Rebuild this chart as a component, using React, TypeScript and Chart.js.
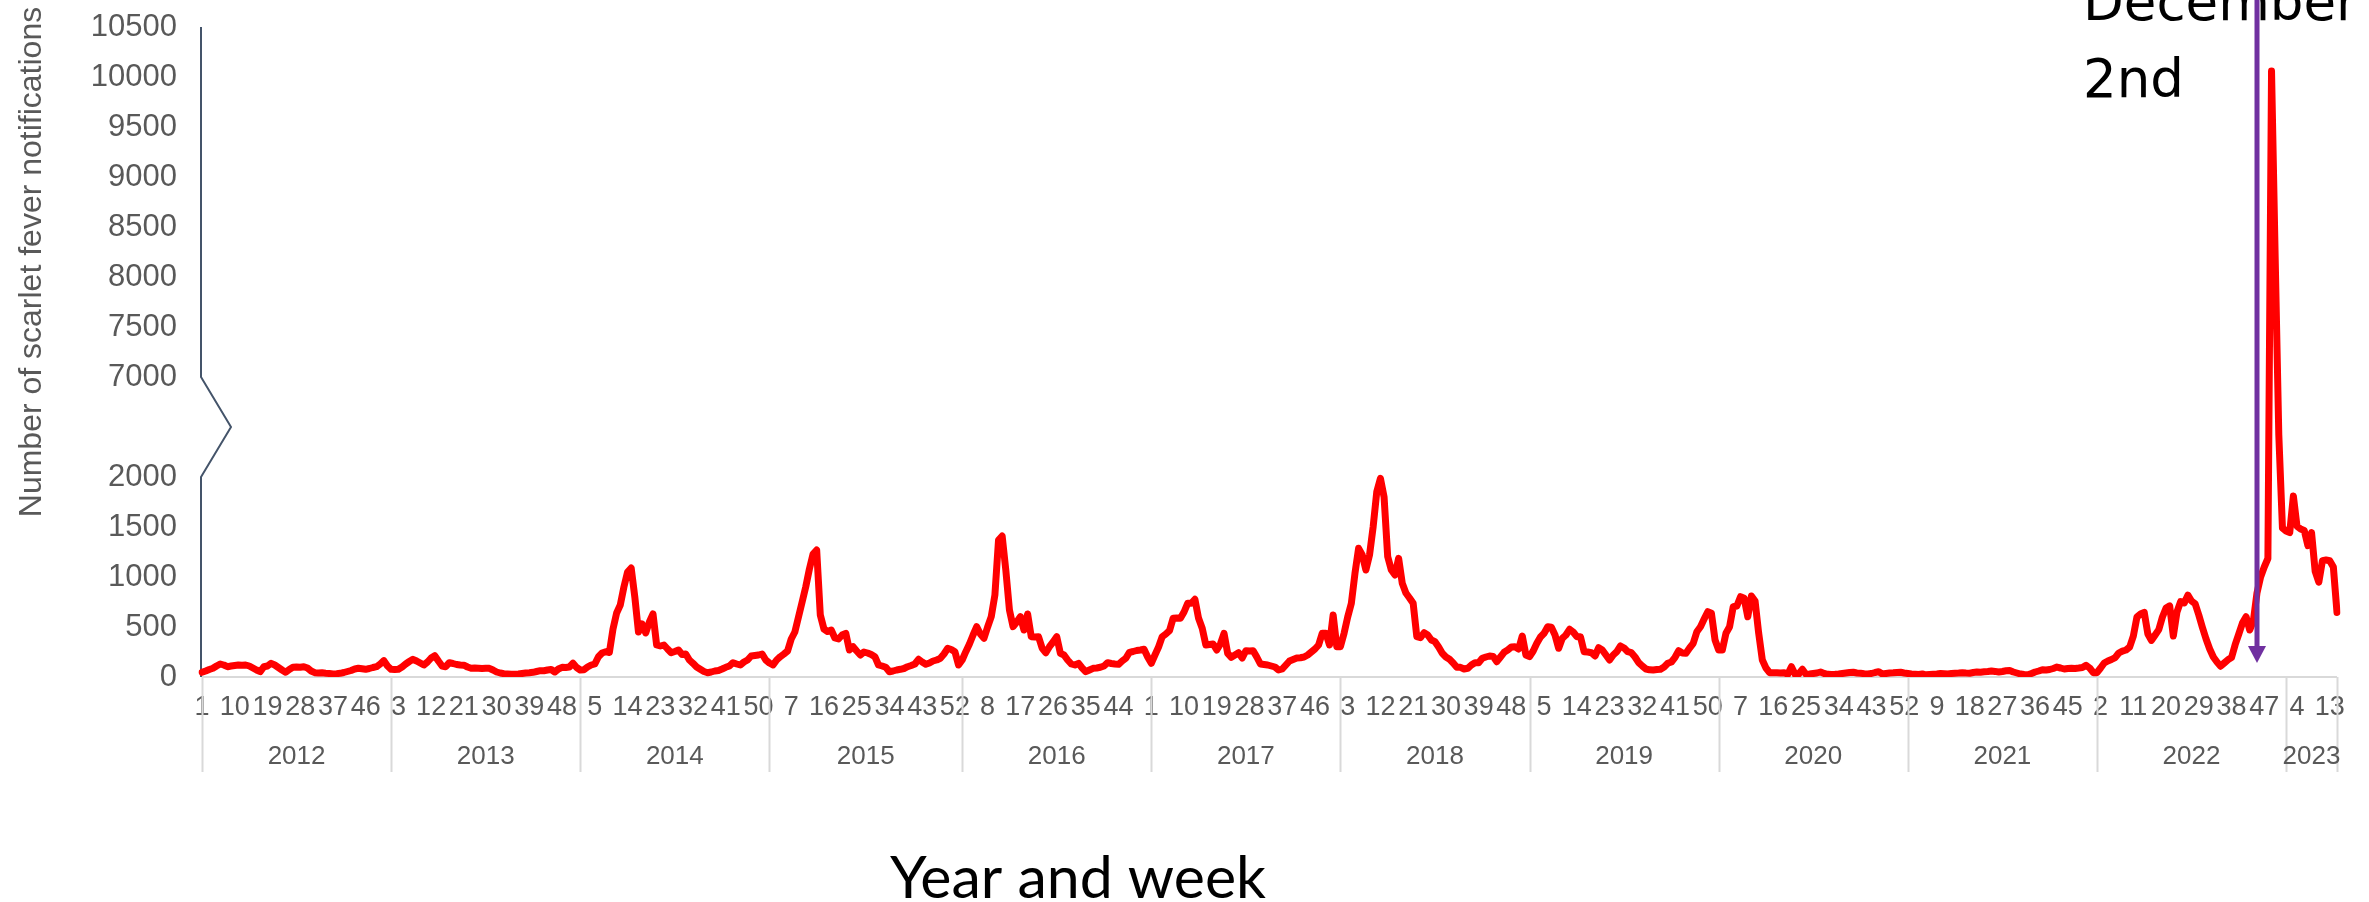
import React, { useEffect, useRef } from 'react';
import { Chart, registerables } from 'chart.js';

Chart.register(...registerables);

// ---- Data: weekly scarlet fever notifications, one array per year ----
const years = ['2012', '2013', '2014', '2015', '2016', '2017', '2018', '2019', '2020', '2021', '2022', '2023'];

const w2012 = [47, 60, 75, 87, 110, 130, 120, 103, 110, 115, 120, 118, 120, 110, 90, 70, 53, 103, 110, 137, 120, 95, 70, 47, 75, 97, 100, 98, 103, 90, 60, 43, 40, 42, 38, 35, 30, 33, 37, 45, 55, 65, 80, 87, 82, 77, 85, 95, 103, 130, 163, 110];
const w2013 = [77, 75, 77, 100, 130, 155, 177, 160, 140, 120, 150, 190, 213, 160, 110, 103, 143, 135, 125, 120, 118, 100, 87, 90, 88, 85, 87, 87, 70, 50, 40, 33, 30, 27, 28, 30, 35, 40, 43, 47, 55, 63, 63, 70, 75, 50, 80, 97, 95, 100, 137, 95];
const w2014 = [70, 72, 100, 120, 130, 203, 240, 253, 245, 480, 640, 720, 900, 1050, 1090, 800, 450, 530, 440, 550, 630, 320, 310, 320, 280, 243, 255, 270, 225, 230, 170, 137, 100, 77, 55, 43, 50, 60, 65, 80, 97, 110, 143, 130, 120, 150, 170, 210, 215, 220, 230, 170];
const w2015 = [140, 120, 170, 203, 230, 260, 380, 450, 600, 750, 903, 1080, 1230, 1270, 620, 480, 455, 470, 390, 380, 420, 437, 270, 303, 260, 220, 250, 240, 225, 203, 120, 110, 97, 53, 60, 70, 77, 85, 103, 115, 130, 177, 150, 127, 140, 160, 170, 187, 230, 287, 275, 253, 120];
const w2016 = [170, 253, 330, 420, 503, 430, 387, 500, 603, 820, 1370, 1410, 1070, 670, 503, 550, 603, 470, 630, 403, 400, 403, 287, 243, 303, 350, 403, 237, 220, 170, 130, 120, 137, 90, 53, 70, 87, 90, 97, 110, 143, 135, 130, 127, 160, 187, 247, 255, 265, 270, 277, 200];
const w2017 = [137, 220, 300, 403, 430, 463, 587, 590, 587, 650, 737, 737, 777, 587, 487, 320, 325, 330, 270, 330, 437, 237, 197, 220, 243, 190, 263, 260, 263, 200, 130, 125, 120, 110, 100, 70, 80, 120, 160, 175, 190, 193, 200, 220, 250, 280, 320, 437, 437, 320, 620, 303];
const w2018 = [303, 437, 600, 737, 1037, 1287, 1220, 1070, 1220, 1503, 1853, 1987, 1800, 1203, 1070, 1020, 1187, 937, 840, 790, 737, 403, 393, 443, 420, 370, 353, 300, 237, 200, 177, 140, 97, 97, 80, 87, 120, 143, 143, 187, 200, 210, 205, 153, 200, 247, 270, 300, 303, 280, 410, 220];
const w2019 = [203, 260, 337, 400, 437, 503, 497, 420, 287, 387, 420, 477, 450, 403, 403, 253, 250, 243, 210, 293, 270, 220, 170, 220, 253, 310, 290, 253, 243, 200, 143, 110, 80, 72, 70, 75, 77, 100, 137, 150, 197, 263, 240, 237, 290, 337, 453, 503, 580, 653, 637, 370];
const w2020 = [270, 270, 437, 503, 703, 710, 803, 787, 603, 810, 760, 437, 170, 90, 43, 43, 43, 40, 43, 27, 103, 27, 30, 77, 27, 30, 35, 40, 50, 35, 27, 25, 27, 30, 35, 40, 45, 47, 40, 38, 33, 30, 35, 45, 53, 30, 35, 40, 42, 45, 47, 40];
const w2021 = [35, 30, 28, 25, 30, 22, 25, 28, 30, 35, 33, 30, 35, 38, 40, 43, 40, 38, 45, 50, 48, 52, 55, 60, 56, 50, 55, 62, 65, 50, 40, 30, 25, 22, 35, 50, 60, 73, 70, 75, 85, 99, 90, 80, 85, 88, 86, 90, 95, 116, 90, 43];
const w2022 = [43, 90, 140, 160, 175, 194, 240, 259, 270, 300, 409, 600, 630, 647, 430, 366, 420, 474, 600, 690, 711, 409, 650, 754, 740, 819, 760, 733, 620, 496, 380, 280, 200, 150, 108, 140, 172, 194, 323, 430, 539, 603, 470, 560, 840, 1000, 1100, 1185, 10060, 8200, 4100, 1490];
const w2023 = [1460, 1444, 1810, 1508, 1480, 1465, 1314, 1444, 1056, 948, 1163, 1170, 1163, 1099, 646];

const yearSeries = [w2012, w2013, w2014, w2015, w2016, w2017, w2018, w2019, w2020, w2021, w2022, w2023];

// y-axis tick values (real notifications), with a broken axis between 2000 and 7000
const yTicksLow = [0, 500, 1000, 1500, 2000];
const yTicksHigh = [7000, 7500, 8000, 8500, 9000, 9500, 10000, 10500];
const breakLow = 2000;
const breakHigh = 7000;
const breakGap = 1000; // axis units used to draw the break

const weekLabelStep = 9;
const annotationIndex = 565;
const annotationLines = ['December', '2nd'];
const yTitle = 'Number of scarlet fever notifications';
const xTitle = 'Year and week';

// map a real value onto the broken axis
const toAxis = (v: number) =>
  v <= breakLow ? v : v >= breakHigh ? v - (breakHigh - breakLow) + breakGap : breakLow + ((v - breakLow) / (breakHigh - breakLow)) * breakGap;
const fromAxis = (a: number) => (a <= breakLow ? a : a - breakGap + (breakHigh - breakLow));

const values = yearSeries.flat();
const weekLabels = yearSeries.flatMap((arr) => arr.map((_, k) => String(k + 1)));
const yearStarts: number[] = [];
{
  let s = 0;
  yearSeries.forEach((arr) => {
    yearStarts.push(s);
    s += arr.length;
  });
}

const overlay = {
  id: 'overlay',
  beforeDatasetsDraw(chart: any) {
    const { ctx, chartArea: ca, scales } = chart;
    const x = scales.x;
    const y = scales.y;
    ctx.save();
    // horizontal category axis line
    ctx.strokeStyle = '#D9D9D9';
    ctx.lineWidth = 2;
    ctx.beginPath();
    ctx.moveTo(ca.left, ca.bottom);
    ctx.lineTo(ca.right, ca.bottom);
    ctx.stroke();
    // year separators
    const seps = yearStarts.map((i) => x.getPixelForValue(i));
    seps.push(ca.right);
    seps.forEach((px: number) => {
      ctx.beginPath();
      ctx.moveTo(Math.round(px) + 0.5, ca.bottom);
      ctx.lineTo(Math.round(px) + 0.5, ca.bottom + 95);
      ctx.stroke();
    });
    // year labels
    ctx.fillStyle = '#595959';
    ctx.font = '26px "Liberation Sans", Arial, sans-serif';
    ctx.textAlign = 'center';
    ctx.textBaseline = 'alphabetic';
    years.forEach((yr, k) => {
      const cx = (seps[k] + seps[k + 1]) / 2;
      ctx.fillText(yr, cx, ca.bottom + 87);
    });
    // value axis line with break
    const yLow = y.getPixelForValue(toAxis(breakLow));
    const yHigh = y.getPixelForValue(toAxis(breakHigh));
    ctx.strokeStyle = '#44546A';
    ctx.lineWidth = 2;
    ctx.lineJoin = 'miter';
    ctx.beginPath();
    ctx.moveTo(ca.left - 1, ca.bottom);
    ctx.lineTo(ca.left - 1, yLow);
    ctx.lineTo(ca.left + 29, (yLow + yHigh) / 2);
    ctx.lineTo(ca.left - 1, yHigh);
    ctx.lineTo(ca.left - 1, ca.top);
    ctx.stroke();
    ctx.restore();
  },
  afterDraw(chart: any) {
    const { ctx, scales } = chart;
    const x = scales.x;
    ctx.save();
    // y title
    ctx.fillStyle = '#595959';
    ctx.font = '32px "Liberation Sans", Arial, sans-serif';
    ctx.textAlign = 'center';
    ctx.textBaseline = 'alphabetic';
    ctx.translate(41, 262);
    ctx.rotate(-Math.PI / 2);
    ctx.fillText(yTitle, 0, 0);
    ctx.restore();

    ctx.save();
    // x title
    ctx.fillStyle = '#000000';
    ctx.font = '59px Lato, "Open Sans", sans-serif';
    ctx.textAlign = 'center';
    ctx.textBaseline = 'alphabetic';
    ctx.fillText(xTitle, 1078, 898);

    // annotation arrow
    const ax = Math.round(x.getPixelForValue(annotationIndex));
    const tipY = 663;
    ctx.strokeStyle = '#7030A0';
    ctx.fillStyle = '#7030A0';
    ctx.lineWidth = 5;
    ctx.beginPath();
    ctx.moveTo(ax, 0);
    ctx.lineTo(ax, tipY - 14);
    ctx.stroke();
    ctx.beginPath();
    ctx.moveTo(ax - 9, tipY - 17);
    ctx.lineTo(ax + 9, tipY - 17);
    ctx.lineTo(ax, tipY);
    ctx.closePath();
    ctx.fill();

    // annotation text
    ctx.fillStyle = '#000000';
    ctx.font = '53px "DejaVu Sans", sans-serif';
    ctx.textAlign = 'left';
    ctx.fillText(annotationLines[0], 2083, 20);
    ctx.fillText(annotationLines[1], 2083, 97);
    ctx.restore();
  },
};

export default function App() {
  const canvasRef = useRef<HTMLCanvasElement | null>(null);

  useEffect(() => {
    const canvas = canvasRef.current;
    if (!canvas) return;
    const chart = new Chart(canvas, {
      type: 'line',
      data: {
        labels: weekLabels,
        datasets: [
          {
            data: values.map(toAxis),
            borderColor: '#FF0000',
            backgroundColor: '#FF0000',
            borderWidth: 7,
            pointRadius: 0,
            pointHoverRadius: 0,
            tension: 0,
            borderJoinStyle: 'round',
            borderCapStyle: 'round',
            fill: false,
          },
        ],
      },
      options: {
        animation: false,
        responsive: true,
        maintainAspectRatio: false,
        devicePixelRatio: 1,
        layout: { padding: { left: 0, right: 32, top: 27, bottom: 0 } },
        plugins: { legend: { display: false }, tooltip: { enabled: false } },
        scales: {
          x: {
            type: 'category',
            offset: false,
            grid: { display: false, drawTicks: false },
            border: { display: false },
            ticks: {
              autoSkip: false,
              maxRotation: 0,
              minRotation: 0,
              padding: 14,
              color: '#595959',
              font: { family: '"Liberation Sans Narrow", "Liberation Sans", Arial, sans-serif', size: 27 },
              callback: (_v: any, index: number) => (index % weekLabelStep === 0 ? weekLabels[index] : ''),
            },
            afterFit: (scale: any) => {
              scale.height = 225;
              scale.paddingLeft = 0;
              scale.paddingRight = 0;
            },
          },
          y: {
            min: 0,
            max: toAxis(yTicksHigh[yTicksHigh.length - 1]),
            grid: { display: false, drawTicks: false },
            border: { display: false },
            afterBuildTicks: (scale: any) => {
              scale.ticks = [...yTicksLow, ...yTicksHigh].map((v) => ({ value: toAxis(v) }));
            },
            ticks: {
              padding: 25,
              color: '#595959',
              font: { family: '"Liberation Sans", Arial, sans-serif', size: 31 },
              callback: (v: any) => String(Math.round(fromAxis(Number(v)))),
            },
            afterFit: (scale: any) => {
              scale.width = 202;
              scale.paddingTop = 0;
              scale.paddingBottom = 0;
            },
          },
        },
      },
      plugins: [overlay],
    });
    return () => chart.destroy();
  }, []);

  return (
    <div style={{ position: 'fixed', left: 0, top: 0, width: '2369px', height: '902px', background: '#ffffff' }}>
      <canvas ref={canvasRef} />
    </div>
  );
}
